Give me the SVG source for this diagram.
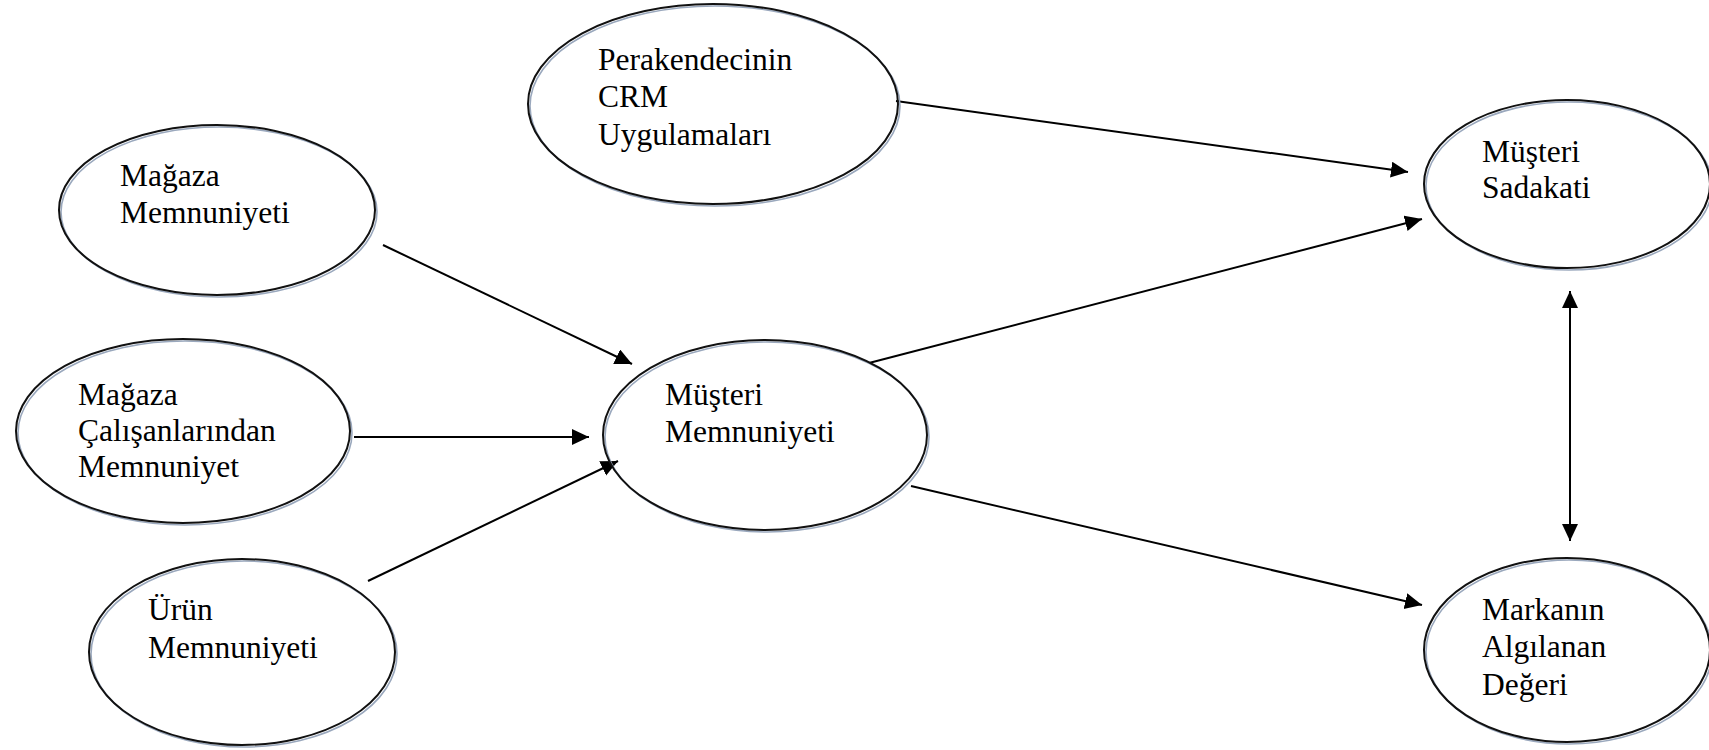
<svg xmlns="http://www.w3.org/2000/svg" width="1709" height="750" viewBox="0 0 1709 750">
  <style>
    .halo { fill: none; stroke: #9aa8bd; stroke-width: 1.6; }
    .rim { fill: none; stroke: #111; stroke-width: 2; }
    .lbl { font-family: "Liberation Serif", "Times New Roman", serif; font-size: 31.5px; fill: #000; }
    .link { stroke: #000; stroke-width: 2; fill: none; }
  </style>
  <defs>
    <marker id="head" markerUnits="userSpaceOnUse" markerWidth="20" markerHeight="18" refX="17" refY="8" orient="auto">
      <path d="M0,0 L17,8 L0,16 Z" fill="#000"/>
    </marker>
    <marker id="tail" markerUnits="userSpaceOnUse" markerWidth="20" markerHeight="18" refX="0" refY="8" orient="auto">
      <path d="M17,0 L0,8 L17,16 Z" fill="#000"/>
    </marker>
  </defs>

  <rect width="1709" height="750" fill="#fff"/>

  <!-- connectors -->
  <g id="connectors">
    <line class="link" x1="383" y1="245" x2="632" y2="364" marker-end="url(#head)"/>
    <line class="link" x1="354" y1="437" x2="589" y2="437" marker-end="url(#head)"/>
    <line class="link" x1="368" y1="581" x2="618" y2="461" marker-end="url(#head)"/>
    <line class="link" x1="896" y1="101" x2="1408" y2="172" marker-end="url(#head)"/>
    <line class="link" x1="869" y1="363" x2="1422" y2="219" marker-end="url(#head)"/>
    <line class="link" x1="911" y1="486" x2="1422" y2="605" marker-end="url(#head)"/>
    <line class="link" x1="1570" y1="291" x2="1570" y2="541" marker-start="url(#tail)" marker-end="url(#head)"/>
  </g>

  <!-- nodes -->
  <g id="crm">
    <ellipse class="halo" cx="715" cy="106" rx="185" ry="100"/>
    <ellipse class="rim" cx="713" cy="104" rx="185" ry="100"/>
    <text class="lbl" x="598" y="70">Perakendecinin</text>
    <text class="lbl" x="598" y="107">CRM</text>
    <text class="lbl" x="598" y="145">Uygulamaları</text>
  </g>

  <g id="magaza">
    <ellipse class="halo" cx="219" cy="212" rx="158" ry="85"/>
    <ellipse class="rim" cx="217" cy="210" rx="158" ry="85"/>
    <text class="lbl" x="120" y="186">Mağaza</text>
    <text class="lbl" x="120" y="223">Memnuniyeti</text>
  </g>

  <g id="calisan">
    <ellipse class="halo" cx="185" cy="433" rx="167" ry="92"/>
    <ellipse class="rim" cx="183" cy="431" rx="167" ry="92"/>
    <text class="lbl" x="78" y="405">Mağaza</text>
    <text class="lbl" x="78" y="441">Çalışanlarından</text>
    <text class="lbl" x="78" y="477">Memnuniyet</text>
  </g>

  <g id="urun">
    <ellipse class="halo" cx="244" cy="654" rx="153" ry="93"/>
    <ellipse class="rim" cx="242" cy="652" rx="153" ry="93"/>
    <text class="lbl" x="148" y="620">Ürün</text>
    <text class="lbl" x="148" y="658">Memnuniyeti</text>
  </g>

  <g id="musteri-memnuniyeti">
    <ellipse class="halo" cx="767" cy="437" rx="162" ry="95"/>
    <ellipse class="rim" cx="765" cy="435" rx="162" ry="95"/>
    <text class="lbl" x="665" y="405">Müşteri</text>
    <text class="lbl" x="665" y="442">Memnuniyeti</text>
  </g>

  <g id="sadakat">
    <ellipse class="halo" cx="1569" cy="186" rx="143" ry="84"/>
    <ellipse class="rim" cx="1567" cy="184" rx="143" ry="84"/>
    <text class="lbl" x="1482" y="162">Müşteri</text>
    <text class="lbl" x="1482" y="198">Sadakati</text>
  </g>

  <g id="marka">
    <ellipse class="halo" cx="1569" cy="652" rx="143" ry="92"/>
    <ellipse class="rim" cx="1567" cy="650" rx="143" ry="92"/>
    <text class="lbl" x="1482" y="620">Markanın</text>
    <text class="lbl" x="1482" y="657">Algılanan</text>
    <text class="lbl" x="1482" y="695">Değeri</text>
  </g>
</svg>
